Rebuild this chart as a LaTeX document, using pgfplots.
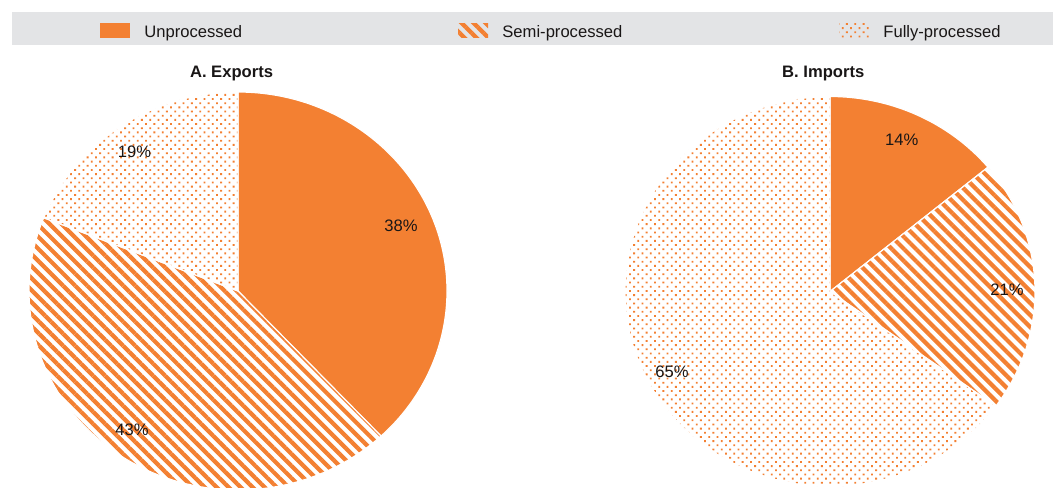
\documentclass[border=0pt]{standalone}
\usepackage{pgfplots}
\pgfplotsset{compat=1.18}
\usepackage{pgfplotstable}
\usepackage{fontspec}
\setmainfont{Liberation Sans}
\usetikzlibrary{patterns.meta}
\definecolor{myorange}{RGB}{243,128,50}
\definecolor{band}{RGB}{227,228,230}
\definecolor{txt}{RGB}{25,22,22}

\pgfplotstableread{
category value
Unprocessed 38
Semi-processed 43
Fully-processed 19
}\exportsdata
\pgfplotstableread{
category value
Unprocessed 14
Semi-processed 21
Fully-processed 65
}\importsdata

\tikzset{
  unproc/.style={fill=myorange},
  semi/.style={pattern={Lines[angle=-45,distance=4.25pt,line width=2.1pt]}, pattern color=myorange},
  fully/.style={pattern={Dots[angle=45,distance=2.95pt,radius=0.65pt]}, pattern color=myorange},
  lbl/.style={font=\fontsize{8.3pt}{10pt}\selectfont, text=txt, inner sep=0pt},
}

\newcommand\pieangles[1]{%
  \pgfplotstablegetelem{0}{value}\of#1\pgfmathsetmacro\angA{90-3.6*\pgfplotsretval}%
  \pgfplotstablegetelem{1}{value}\of#1\pgfmathsetmacro\angB{\angA-3.6*\pgfplotsretval}%
  \pgfplotstablegetelem{2}{value}\of#1\pgfmathsetmacro\angC{\angB-3.6*\pgfplotsretval}%
}
% #1 style, #2 start, #3 end, #4 x radius, #5 y radius
\newcommand\pieslice[5]{%
  \path[#1, draw=white, line width=0.6pt] (axis cs:0,0) -- (axis cs:{cos(#2)},{sin(#2)})
    arc[start angle=#2, end angle=#3, x radius=#4, y radius=#5] -- cycle;
}

\begin{document}
\begin{tikzpicture}[x=0.5pt, y=0.5pt]
\path[use as bounding box] (0,0) rectangle (1053,487);
\clip (0,0) rectangle (1053,487);

% legend band
\fill[band] (12,442) rectangle (1053,475);
\fill[unproc] (100,449.3) rectangle (130,463.7);
\path[semi] (458,449.3) rectangle (488,463.7);
\path[fully] (839,449.3) rectangle (869,463.7);
\node[lbl, anchor=base west] at (144,449.3) {Unprocessed};
\node[lbl, anchor=base west] at (502,449.3) {Semi-processed};
\node[lbl, anchor=base west] at (883,449.3) {Fully-processed};

% A. Exports
\pieangles{\exportsdata}
\begin{axis}[at={(119pt,98pt)}, anchor=origin, x=104.5pt, y=99.5pt,
  xmin=-1.1, xmax=1.1, ymin=-1.1, ymax=1.1, hide axis, clip=false]
  \pieslice{unproc}{90}{\angA}{104.5pt}{99.5pt}
  \pieslice{semi}{\angA}{\angB}{104.5pt}{99.5pt}
  \pieslice{fully}{\angB}{\angC}{104.5pt}{99.5pt}
  \node[lbl, anchor=base, font=\fontsize{8.3pt}{10pt}\selectfont\bfseries] at (axis cs:-0.031,1.074) {A. Exports};
  \node[lbl] at (axis cs:0.780,0.329) {38\%};
  \node[lbl] at (axis cs:-0.507,-0.698) {43\%};
  \node[lbl] at (axis cs:-0.495,0.698) {19\%};
\end{axis}

% B. Imports
\pieangles{\importsdata}
\begin{axis}[at={(415pt,97.75pt)}, anchor=origin, x=102.5pt, y=97.5pt,
  xmin=-1.1, xmax=1.1, ymin=-1.1, ymax=1.1, hide axis, clip=false]
  \pieslice{unproc}{90}{\angA}{102.5pt}{97.5pt}
  \pieslice{semi}{\angA}{\angB}{102.5pt}{97.5pt}
  \pieslice{fully}{\angB}{\angC}{102.5pt}{97.5pt}
  \node[lbl, anchor=base, font=\fontsize{8.3pt}{10pt}\selectfont\bfseries] at (axis cs:-0.033,1.098) {B. Imports};
  \node[lbl] at (axis cs:0.350,0.777) {14\%};
  \node[lbl] at (axis cs:0.863,0.008) {21\%};
  \node[lbl] at (axis cs:-0.771,-0.413) {65\%};
\end{axis}
\end{tikzpicture}
\end{document}
